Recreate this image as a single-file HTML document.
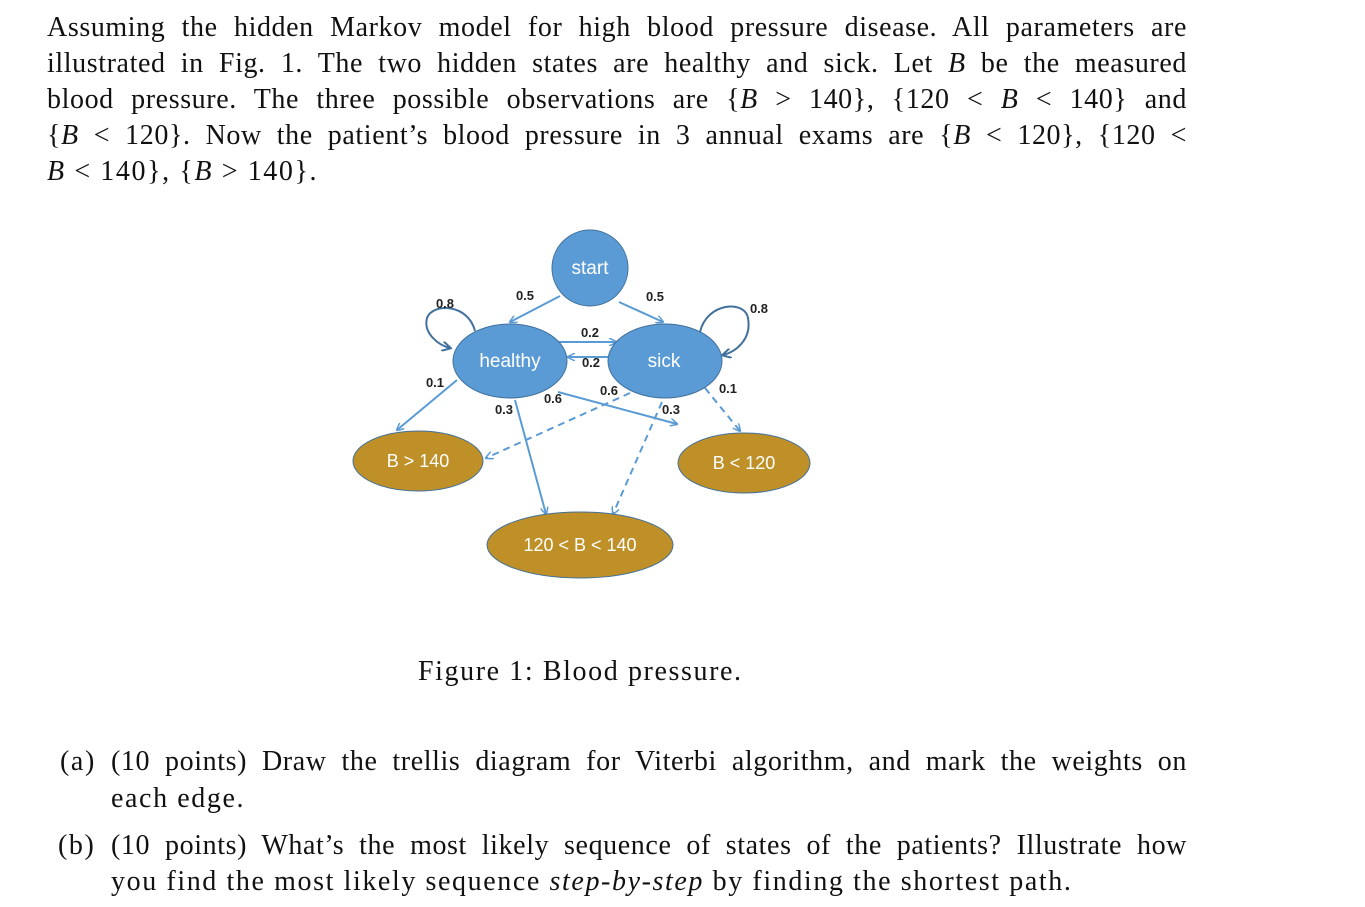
<!DOCTYPE html>
<html><head><meta charset="utf-8"><style>
body{margin:0;width:1365px;height:907px;background:#fff;position:relative;overflow:hidden;font-family:"Liberation Serif",serif;color:#111}
.l{position:absolute;font-size:28px;line-height:36px;white-space:nowrap;letter-spacing:1.6px}
.j{text-align:justify;text-align-last:justify;white-space:normal;letter-spacing:0.6px}
i{font-style:italic}
svg{position:absolute;left:0;top:0}
.lab{font-family:"Liberation Sans",sans-serif;font-size:13px;font-weight:bold;fill:#222}
.nt{font-family:"Liberation Sans",sans-serif;font-size:19px;fill:#fff;text-anchor:middle}
</style></head><body>
<div class="l j" style="left:47px;top:10px;width:1140px">Assuming the hidden Markov model for high blood pressure disease. All parameters are</div>
<div class="l j" style="left:47px;top:46px;width:1140px">illustrated in Fig. 1. The two hidden states are healthy and sick. Let <i>B</i> be the measured</div>
<div class="l j" style="left:47px;top:82px;width:1140px">blood pressure. The three possible observations are {<i>B</i> &gt; 140}, {120 &lt; <i>B</i> &lt; 140} and</div>
<div class="l j" style="left:47px;top:118px;width:1140px">{<i>B</i> &lt; 120}. Now the patient’s blood pressure in 3 annual exams are {<i>B</i> &lt; 120}, {120 &lt;</div>
<div class="l" style="left:47px;top:154px"><i>B</i> &lt; 140}, {<i>B</i> &gt; 140}.</div>

<svg width="1365" height="907">
<defs>
<marker id="a" markerWidth="8" markerHeight="8" refX="7" refY="4" orient="auto" markerUnits="userSpaceOnUse"><path d="M0,0 L8,4 L0,8" fill="none" stroke="#5b9bd5" stroke-width="1.5"/></marker>
<marker id="b" markerWidth="10" markerHeight="10" refX="8" refY="5" orient="auto" markerUnits="userSpaceOnUse"><path d="M0,0 L9,5 L0,10" fill="none" stroke="#41719c" stroke-width="2"/></marker>
</defs>
<g stroke="#5b9bd5" stroke-width="2" fill="none">
<line x1="560" y1="296" x2="510" y2="322" marker-end="url(#a)"/>
<line x1="619" y1="302" x2="663" y2="322" marker-end="url(#a)"/>
<line x1="558" y1="342" x2="616" y2="342" marker-end="url(#a)"/>
<line x1="608" y1="357" x2="568" y2="357" marker-end="url(#a)"/>
<line x1="457" y1="380" x2="397" y2="430" marker-end="url(#a)"/>
<line x1="515" y1="400" x2="546" y2="514" marker-end="url(#a)"/>
<line x1="558" y1="392" x2="677" y2="424" marker-end="url(#a)"/>
<g stroke-dasharray="7,5">
<line x1="630" y1="393" x2="486" y2="458" marker-end="url(#a)"/>
<line x1="662" y1="402" x2="613" y2="514" marker-end="url(#a)"/>
<line x1="705" y1="388" x2="740" y2="431" marker-end="url(#a)"/>
</g>
</g>
<g fill="#5b9bd5" stroke="#41719c" stroke-width="1">
<circle cx="590" cy="268" r="38"/>
<ellipse cx="510" cy="361" rx="57" ry="37"/>
<ellipse cx="665" cy="361" rx="57" ry="37"/>
</g>
<g stroke="#41719c" stroke-width="2" fill="none">
<path d="M475,331 C468,303 432,303 427,318 C423,333 438,345 450,348" marker-end="url(#b)"/>
<path d="M700,332 C707,302 745,300 748,318 C752,340 735,352 723,355" marker-end="url(#b)"/>
</g>
<g fill="#bf9027" stroke="#41719c" stroke-width="1">
<ellipse cx="418" cy="461" rx="65" ry="30"/>
<ellipse cx="744" cy="463" rx="66" ry="30"/>
<ellipse cx="580" cy="545" rx="93" ry="33"/>
</g>
<text class="nt" x="590" y="274">start</text>
<text class="nt" x="510" y="367">healthy</text>
<text class="nt" x="664" y="367">sick</text>
<text class="nt" x="418" y="467" style="font-size:18px">B &gt; 140</text>
<text class="nt" x="744" y="469" style="font-size:18px">B &lt; 120</text>
<text class="nt" x="580" y="551" style="font-size:18px">120 &lt; B &lt; 140</text>
<g class="lab" text-anchor="middle">
<text x="445" y="308">0.8</text>
<text x="525" y="300">0.5</text>
<text x="655" y="301">0.5</text>
<text x="759" y="313">0.8</text>
<text x="590" y="337">0.2</text>
<text x="591" y="367">0.2</text>
<text x="435" y="387">0.1</text>
<text x="609" y="395">0.6</text>
<text x="728" y="393">0.1</text>
<text x="504" y="414">0.3</text>
<text x="553" y="403">0.6</text>
<text x="671" y="414">0.3</text>
</g>
</svg>

<div class="l" style="left:418px;top:654px">Figure 1: Blood pressure.</div>
<div class="l" style="left:60px;top:744px">(a)</div>
<div class="l j" style="left:111px;top:744px;width:1076px">(10 points) Draw the trellis diagram for Viterbi algorithm, and mark the weights on</div>
<div class="l" style="left:111px;top:781px">each edge.</div>
<div class="l" style="left:58px;top:828px">(b)</div>
<div class="l j" style="left:111px;top:828px;width:1076px">(10 points) What’s the most likely sequence of states of the patients? Illustrate how</div>
<div class="l" style="left:111px;top:864px">you find the most likely sequence <i>step-by-step</i> by finding the shortest path.</div>
</body></html>
